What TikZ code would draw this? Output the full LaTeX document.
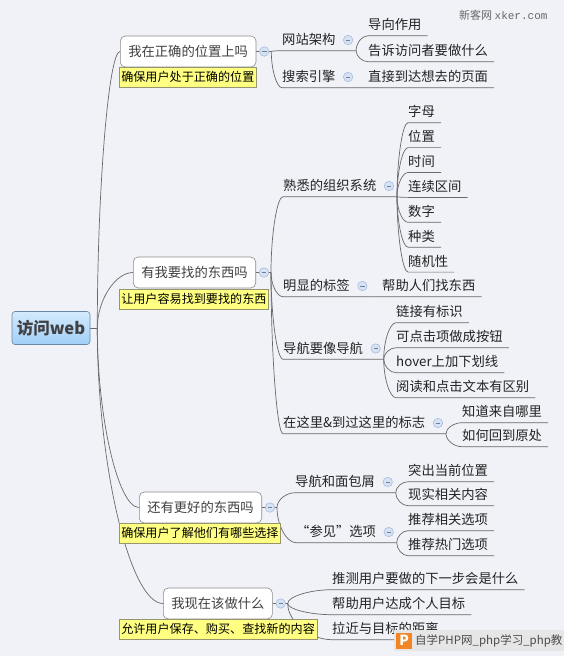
\documentclass[tikz,border=0pt]{standalone}
\usepackage{fontspec}
\setmainfont{Noto Sans CJK SC}
\newfontfamily\monofont{Liberation Mono}
\usetikzlibrary{positioning,calc}
\definecolor{bgclr}{RGB}{240,242,248}
\definecolor{lineclr}{RGB}{105,105,105}
\definecolor{topicdraw}{RGB}{140,140,140}
\definecolor{notefill}{RGB}{255,255,130}
\definecolor{notedraw}{RGB}{150,150,110}
\definecolor{roottop}{RGB}{212,234,252}
\definecolor{rootbot}{RGB}{160,207,247}
\definecolor{rootdraw}{RGB}{105,135,165}
\definecolor{foldfill}{RGB}{214,226,244}
\definecolor{folddraw}{RGB}{160,184,216}
\definecolor{txtclr}{RGB}{35,35,35}
\definecolor{logoorange}{RGB}{242,132,38}
\definecolor{logogray}{RGB}{230,230,230}
\pgfdeclarelayer{bg}
\pgfdeclarelayer{lines}
\pgfsetlayers{bg,lines,main}

\begin{document}
\begin{tikzpicture}[
  x=1pt, y=-1pt,
  every node/.style={text=txtclr},
  rootbox/.style={draw=rootdraw, line width=0.6pt, rounded corners=3pt, top color=roottop, bottom color=rootbot, minimum width=78pt, minimum height=33pt, font=\fontsize{16.5}{18}\selectfont\bfseries, text=black!75},
  topic/.style={draw=topicdraw, line width=0.6pt, fill=white, rounded corners=5pt, inner xsep=8pt, minimum height=31pt, anchor=west, font=\fontsize{13.3}{15}\selectfont, text=black!75},
  note/.style={draw=notedraw, line width=0.5pt, fill=notefill, inner xsep=2pt, inner ysep=0pt, minimum height=20pt, anchor=north west, font=\fontsize{12.1}{14}\selectfont, text=black},
  sub/.style={inner xsep=0pt, inner ysep=0pt, text height=11pt, text depth=1.6pt, minimum height=21pt, anchor=west, font=\fontsize{13.3}{15}\selectfont},
  fold/.style={circle, draw=folddraw, fill=foldfill, minimum size=9.5pt, inner sep=0pt, line width=0.5pt,
    path picture={\draw[folddraw!70!black, line width=0.6pt] ([xshift=-2.2pt]path picture bounding box.center) -- ([xshift=2.2pt]path picture bounding box.center);}},
  branch/.style={draw=lineclr, line width=0.7pt},
  curve/.style={to path={.. controls ($(\tikztostart)!.5!(\tikztostart|-\tikztotarget)$) and ($(\tikztostart|-\tikztotarget)!.5!(\tikztotarget)$) .. (\tikztotarget)}}
]
\begin{pgfonlayer}{bg}
\fill[bgclr] (0,0) rectangle (564,656);
\end{pgfonlayer}
\useasboundingbox (0,0) rectangle (564,656);

% root and main topics
\node[rootbox] (web) at (51,328) {访问web};
\coordinate[xshift=7pt] (web-o) at (web.east);

\node[topic] (t1) at (120,51.5) {我在正确的位置上吗};
\node[topic] (t2) at (133,272.5) {有我要找的东西吗};
\node[topic] (t3) at (139,507.5) {还有更好的东西吗};
\node[topic] (t4) at (163,603.5) {我现在该做什么};
\foreach \n in {t1,t2,t3,t4} {
  \node[fold, right=3pt of \n] (\n c) {};
  \coordinate[xshift=2pt] (\n-o) at (\n c.east);
}

\node[note] (n1) at (119,67) {确保用户处于正确的位置};
\node[note] (n2) at (119,289) {让用户容易找到要找的东西};
\node[note] (n3) at (119,522.5) {确保用户了解他们有哪些选择};
\node[note] (n4) at (119,619) {允许用户保存、购买、查找新的内容};

% topic 1
\node[sub] (wz) at (282,40) {网站架构};
\node[sub] (ss) at (282,77) {搜索引擎};
\node[sub] (dx) at (368,25) {导向作用};
\node[sub] (gs) at (368,51) {告诉访问者要做什么};
\node[sub] (zj) at (368,77) {直接到达想去的页面};

% topic 2
\node[sub] (zz) at (283,186) {熟悉的组织系统};
\foreach \t [count=\i] in {字母,位置,时间,连续区间,数字,种类,随机性}
  \node[sub] (zz\i) at (408,{112+24.9*(\i-1)}) {\t};
\node[sub] (mx) at (283,286) {明显的标签};
\node[sub] (bz) at (382,286) {帮助人们找东西};
\node[sub] (dh) at (283,348.5) {导航要像导航};
\foreach \t [count=\i] in {链接有标识,可点击项做成按钮,hover上加下划线,阅读和点击文本有区别}
  \node[sub] (dh\i) at (396,{312+25*(\i-1)}) {\t};
\node[sub] (zl) at (283,423) {在这里\&到过这里的标志};
\node[sub] (zl1) at (462,412) {知道来自哪里};
\node[sub] (zl2) at (462,436) {如何回到原处};

% topic 3
\node[sub] (mb) at (295,482) {导航和面包屑};
\node[sub] (mb1) at (408,471) {突出当前位置};
\node[sub] (mb2) at (408,495) {现实相关内容};
\node[sub] (cj) at (296,532) {“参见”选项};
\node[sub] (cj1) at (408,520) {推荐相关选项};
\node[sub] (cj2) at (408,545) {推荐热门选项};

% topic 4
\foreach \t [count=\i] in {推测用户要做的下一步会是什么,帮助用户达成个人目标,拉近与目标的距离}
  \node[sub] (cz\i) at (332,{579+25*(\i-1)}) {\t};

\foreach \n in {wz,ss,zz,mx,dh,zl,mb,cj} {
  \node[fold, right=7.5pt of \n] (\n c) {};
  \coordinate[xshift=3pt] (\n-o) at (\n c.east |- \n.south);
}

% connectors
\begin{pgfonlayer}{lines}
\draw[branch] (web.east) -- (web-o);
\foreach \n in {t1,t2,t3,t4} {
  \draw[branch] (web-o) to[curve] (\n.west);
  \draw[branch] (\n.east) -- (\n-o);
}
\foreach \p/\s in {t1/wz,t1/ss,t2/zz,t2/mx,t2/dh,t2/zl,t3/mb,t3/cj}
  \draw[branch] (\p-o) to[curve] (\s.south west) -- (\s-o);
\foreach \p/\s in {wz/dx,wz/gs,ss/zj,zz/zz1,zz/zz2,zz/zz3,zz/zz4,zz/zz5,zz/zz6,zz/zz7,mx/bz,dh/dh1,dh/dh2,dh/dh3,dh/dh4,zl/zl1,zl/zl2,mb/mb1,mb/mb2,cj/cj1,cj/cj2,t4/cz1,t4/cz2,t4/cz3}
  \draw[branch] (\p-o) to[curve] (\s.south west) -- ([xshift=6pt]\s.south east);
\end{pgfonlayer}

% watermarks
\node[anchor=west, inner sep=0pt, text=black!60, font=\fontsize{11}{12}\selectfont] (mark) at (459,15) {新客网 {\monofont xker.com}};
\node[fill=logogray, inner sep=0pt, minimum width=170pt, minimum height=21pt, anchor=west] (logo) at (394,640.5) {};
\node[fill=logoorange, inner sep=0pt, minimum size=16pt, anchor=west, text=white, font=\fontsize{14}{14}\selectfont\bfseries] (logop) at (396,640.5) {P};
\node[anchor=west, inner sep=0pt, text=black!70, font=\fontsize{11.5}{12}\selectfont] (logot) at (415,640.5) {自学PHP网\_php学习\_php教};
\end{tikzpicture}
\end{document}
